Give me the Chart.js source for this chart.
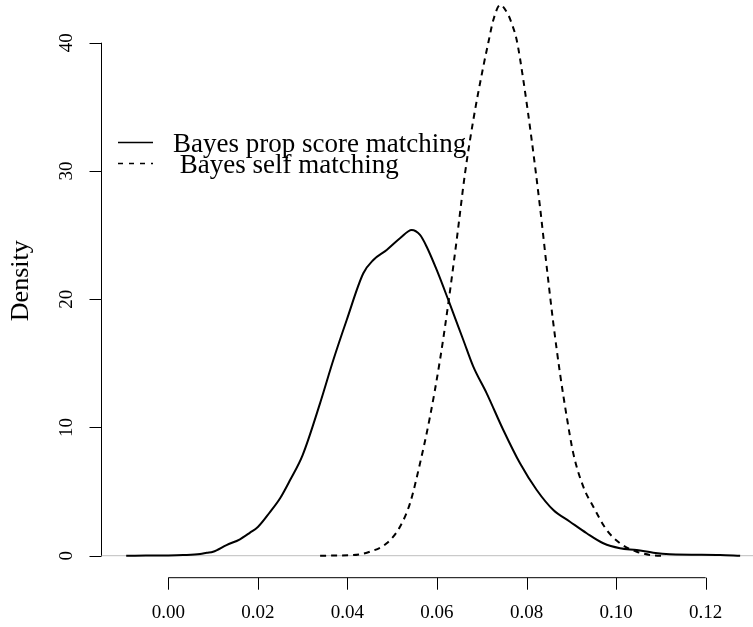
<!DOCTYPE html>
<html>
<head>
<meta charset="utf-8">
<script src="https://cdn.jsdelivr.net/npm/chart.js@4/dist/chart.umd.min.js"></script>
<style>
    body { margin: 0; background: white; }
    canvas { display: block; }
</style>
</head>
<body>
<canvas id="myChart" width="753" height="627"></canvas>
<script>

// Bayes prop score matching (solid)
let propX = [-0.0094, -0.005, 0.0, 0.0033, 0.0071, 0.0086, 0.01, 0.013, 0.016, 0.01825,
    0.02, 0.0227, 0.025, 0.0272, 0.03, 0.03388, 0.03685, 0.03984, 0.04355, 0.04578,
    0.04877, 0.05174, 0.05435, 0.05621, 0.0577, 0.05994, 0.06253, 0.06588, 0.06811, 0.0711,
    0.07481, 0.07854, 0.08227, 0.08598, 0.0897, 0.09343, 0.09714, 0.10087, 0.1046, 0.1083,
    0.112, 0.1232, 0.1277];
let propY = [0, 0.01, 0.02, 0.05, 0.13, 0.23, 0.31, 0.83, 1.28, 1.8,
    2.24, 3.4, 4.5, 5.9, 7.85, 11.88, 15.26, 18.38, 22.02, 23.06,
    23.84, 24.75, 25.4, 25.01, 24.09, 22.28, 19.94, 16.82, 14.74, 12.66,
    9.8, 7.2, 5.12, 3.56, 2.65, 1.75, 0.97, 0.58, 0.44, 0.23,
    0.11, 0.05, 0];

// Bayes self matching (dashed)
let selfX = [0.0339, 0.0413, 0.045, 0.04877, 0.05174, 0.05397, 0.05621, 0.05844, 0.06067, 0.06253,
    0.0644, 0.06626, 0.06811, 0.07034, 0.07146, 0.07258, 0.0741, 0.07593, 0.07668, 0.0778,
    0.07928, 0.08115, 0.083, 0.0845, 0.08598, 0.08747, 0.08897, 0.09044, 0.09267, 0.09491,
    0.0979, 0.10087, 0.1046, 0.1098, 0.111];
let selfY = [0, 0.05, 0.31, 0.97, 2.26, 4.08, 7.2, 10.84, 15.26, 19.68,
    24.62, 29.82, 33.97, 38.13, 40.0, 41.77, 42.94, 42.16, 41.51, 40.21,
    37.09, 32.41, 27.21, 22.53, 18.12, 14.22, 10.84, 7.98, 5.38, 3.82,
    2.0, 0.97, 0.31, 0.0, 0];

let xTicks = [0, 0.02, 0.04, 0.06, 0.08, 0.10, 0.12];
let xTickLabels = ["0.00", "0.02", "0.04", "0.06", "0.08", "0.10", "0.12"];
let yTicks = [0, 10, 20, 30, 40];
let yTickLabels = ["0", "10", "20", "30", "40"];

let legendLabels = ["Bayes prop score matching", " Bayes self matching"];
let yTitle = "Density";

const serif = "'Liberation Serif', 'DejaVu Serif', serif";

function toPoints(xs, ys) {
    return xs.map((x, i) => ({ x: x, y: ys[i] }));
}

/* R style axes, zero line and legend */
const rStyle = {
    id: "rStyle",

    beforeDatasetsDraw(chart) {
        let ctx = chart.ctx;
        let area = chart.chartArea;
        let y0 = chart.scales.y.getPixelForValue(0);

        ctx.save();
        ctx.strokeStyle = "#bebebe";
        ctx.lineWidth = 1;
        ctx.beginPath();
        ctx.moveTo(area.left, y0);
        ctx.lineTo(area.right, y0);
        ctx.stroke();
        ctx.restore();
    },

    afterDraw(chart) {
        let ctx = chart.ctx;
        let area = chart.chartArea;
        let xs = chart.scales.x;
        let ys = chart.scales.y;

        ctx.save();
        ctx.strokeStyle = "black";
        ctx.fillStyle = "black";
        ctx.lineWidth = 1;

        // x axis
        let yb = area.bottom;
        ctx.beginPath();
        ctx.moveTo(xs.getPixelForValue(xTicks[0]), yb);
        ctx.lineTo(xs.getPixelForValue(xTicks[xTicks.length - 1]), yb);
        xTicks.forEach(t => {
            let px = Math.round(xs.getPixelForValue(t)) + 0.5;
            ctx.moveTo(px, yb);
            ctx.lineTo(px, yb + 12);
        });
        ctx.stroke();

        ctx.font = "19px " + serif;
        ctx.textAlign = "center";
        ctx.textBaseline = "middle";
        xTicks.forEach((t, i) => {
            ctx.fillText(xTickLabels[i], xs.getPixelForValue(t), yb + 35);
        });

        // y axis
        let xl = area.left + 0.5;
        ctx.beginPath();
        ctx.moveTo(xl, ys.getPixelForValue(yTicks[0]));
        ctx.lineTo(xl, ys.getPixelForValue(yTicks[yTicks.length - 1]));
        yTicks.forEach(t => {
            let py = Math.round(ys.getPixelForValue(t)) + 0.5;
            ctx.moveTo(xl, py);
            ctx.lineTo(xl - 12, py);
        });
        ctx.stroke();

        yTicks.forEach((t, i) => {
            ctx.save();
            ctx.translate(area.left - 34, ys.getPixelForValue(t));
            ctx.rotate(-Math.PI / 2);
            ctx.fillText(yTickLabels[i], 0, 0);
            ctx.restore();
        });

        // y title
        ctx.save();
        ctx.font = "26px " + serif;
        ctx.translate(21, ys.getPixelForValue(21.44));
        ctx.rotate(-Math.PI / 2);
        ctx.fillText(yTitle, 0, 0);
        ctx.restore();

        // legend
        ctx.font = "27px " + serif;
        ctx.textAlign = "left";
        ctx.textBaseline = "alphabetic";
        ctx.lineWidth = 1.3;

        ctx.beginPath();
        ctx.moveTo(118, 142.5);
        ctx.lineTo(153, 142.5);
        ctx.stroke();
        ctx.fillText(legendLabels[0], 173, 152);

        ctx.setLineDash([5, 6]);
        ctx.beginPath();
        ctx.moveTo(118, 163.5);
        ctx.lineTo(153, 163.5);
        ctx.stroke();
        ctx.setLineDash([]);
        ctx.fillText(legendLabels[1], 173, 173);

        ctx.restore();
    }
};

let chart = new Chart(document.getElementById("myChart").getContext("2d"), {
    type: "line",

    data: {
        datasets: [
            {
                label: legendLabels[0],
                data: toPoints(propX, propY),
                borderColor: "black",
                borderWidth: 2,
                pointRadius: 0,
                cubicInterpolationMode: "monotone",
                fill: false
            },
            {
                label: legendLabels[1],
                data: toPoints(selfX, selfY),
                borderColor: "black",
                borderWidth: 2,
                borderDash: [6, 5],
                pointRadius: 0,
                cubicInterpolationMode: "monotone",
                fill: false
            }
        ]
    },

    plugins: [rStyle],

    options: {
        responsive: false,
        animation: false,
        devicePixelRatio: 1,

        layout: {
            padding: { left: 101, right: 0, top: 0, bottom: 49.3 }
        },

        plugins: {
            legend: { display: false },
            tooltip: { enabled: false }
        },

        scales: {
            x: {
                type: "linear",
                min: -0.01503,
                max: 0.13057,
                display: false
            },
            y: {
                min: -1.716,
                max: 43.33,
                display: false
            }
        }
    }
});

</script>
</body>
</html>
